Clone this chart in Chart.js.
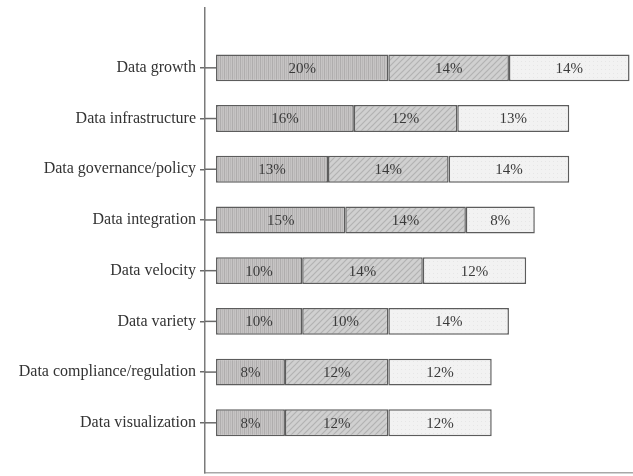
<!DOCTYPE html>
<html>
<head>
<meta charset="utf-8">
<script src="https://cdn.jsdelivr.net/npm/chart.js@4"></script>
<style>
  html, body { margin: 0; padding: 0; background: #ffffff; }
  #wrap { width: 633px; height: 476px; position: relative; }
</style>
</head>
<body>
<div id="wrap"><canvas id="c"></canvas></div>
<script>
const categories = [
  "Data growth",
  "Data infrastructure",
  "Data governance/policy",
  "Data integration",
  "Data velocity",
  "Data variety",
  "Data compliance/regulation",
  "Data visualization"
];
const seriesA = [20, 16, 13, 15, 10, 10, 8, 8];
const seriesB = [14, 12, 14, 14, 14, 10, 12, 12];
const seriesC = [14, 13, 14, 8, 12, 14, 12, 12];

function makePattern(kind) {
  const c = document.createElement('canvas');
  const s = kind === 'hatch' ? 6 : 4;
  c.width = s; c.height = s;
  const g = c.getContext('2d');
  if (kind === 'stripe') {
    g.fillStyle = '#c6c4c4'; g.fillRect(0, 0, s, s);
    g.fillStyle = '#afadad'; g.fillRect(0, 0, 1, s);
    g.fillStyle = '#bab8b8'; g.fillRect(2, 0, 1, s);
  } else if (kind === 'hatch') {
    g.fillStyle = '#d0d0d0'; g.fillRect(0, 0, s, s);
    g.strokeStyle = '#b2b2b2'; g.lineWidth = 1.2;
    g.beginPath();
    g.moveTo(0, s); g.lineTo(s, 0);
    g.moveTo(s - 1, s + 1); g.lineTo(s + 1, s - 1);
    g.moveTo(-1, 1); g.lineTo(1, -1);
    g.stroke();
  } else {
    g.fillStyle = '#f2f2f2'; g.fillRect(0, 0, s, s);
    g.fillStyle = '#e6e6e6'; g.fillRect(1, 1, 1, 1);
  }
  const ctx = document.getElementById('c').getContext('2d');
  return ctx.createPattern(c, 'repeat');
}

function toPoints(arr) { return arr.map((v, i) => ({ x: v, y: i })); }

const serif = "'Liberation Serif', 'DejaVu Serif', serif";

const valueLabels = {
  id: 'valueLabels',
  afterDatasetsDraw(chart) {
    const ctx = chart.ctx;
    ctx.save();
    ctx.font = "15px " + serif;
    ctx.fillStyle = '#3a3a3a';
    ctx.textAlign = 'center';
    ctx.textBaseline = 'middle';
    chart.data.datasets.forEach((ds, di) => {
      const meta = chart.getDatasetMeta(di);
      meta.data.forEach((el, i) => {
        const p = el.getProps(['x', 'y', 'base'], true);
        ctx.fillText(ds.data[i].x + '%', (p.x + p.base) / 2, p.y + 1);
      });
    });
    ctx.restore();
  }
};

const tickStubs = {
  id: 'tickStubs',
  afterDatasetsDraw(chart) {
    const ctx = chart.ctx;
    const xs = chart.scales.x, ys = chart.scales.y;
    ctx.save();
    ctx.strokeStyle = '#6a6a6a';
    ctx.lineWidth = 1.5;
    categories.forEach((c, i) => {
      const y = ys.getPixelForValue(i);
      ctx.beginPath();
      ctx.moveTo(chart.chartArea.left, y);
      ctx.lineTo(xs.getPixelForValue(0), y);
      ctx.stroke();
    });
    ctx.restore();
  }
};

const common = { borderColor: '#5c5c5c', borderWidth: 1.5, borderSkipped: false,
                 barPercentage: 0.53, categoryPercentage: 1.0 };

new Chart(document.getElementById('c'), {
  type: 'bar',
  data: {
    datasets: [
      Object.assign({ label: 'A', data: toPoints(seriesA), backgroundColor: makePattern('stripe') }, common),
      Object.assign({ label: 'B', data: toPoints(seriesB), backgroundColor: makePattern('hatch') }, common),
      Object.assign({ label: 'C', data: toPoints(seriesC), backgroundColor: makePattern('light') }, common)
    ]
  },
  options: {
    indexAxis: 'y',
    responsive: true,
    maintainAspectRatio: false,
    animation: false,
    layout: { padding: { top: 8, bottom: 3, left: 0, right: 0 } },
    plugins: { legend: { display: false }, tooltip: { enabled: false } },
    scales: {
      x: {
        type: 'linear',
        stacked: true,
        offset: false,
        min: -1.28,
        max: 48.4,
        afterFit(scale) { scale.height = 0; scale.paddingLeft = 0; scale.paddingRight = 0; },
        grid: { display: false, drawTicks: false },
        ticks: { display: false },
        border: { display: true, color: '#a8a8a8', width: 1.5 }
      },
      y: {
        type: 'linear',
        stacked: true,
        reverse: true,
        offset: false,
        min: -1.18,
        max: 7.99,
        afterFit(scale) { scale.width = 205; scale.paddingTop = 0; scale.paddingBottom = 0; },
        afterBuildTicks(scale) {
          scale.ticks = categories.map((c, i) => ({ value: i }));
        },
        ticks: {
          stepSize: 1,
          autoSkip: false,
          padding: 4,
          color: '#333333',
          font: { family: serif, size: 16 },
          callback: (v) => categories[v] !== undefined ? categories[v] : ''
        },
        grid: { offset: false, drawOnChartArea: false, drawTicks: true, tickLength: 5, color: '#6a6a6a', tickColor: '#6a6a6a', lineWidth: 1.5 },
        border: { display: true, color: '#7a7a7a', width: 1.5 }
      }
    }
  },
  plugins: [valueLabels, tickStubs]
});
</script>
</body>
</html>
